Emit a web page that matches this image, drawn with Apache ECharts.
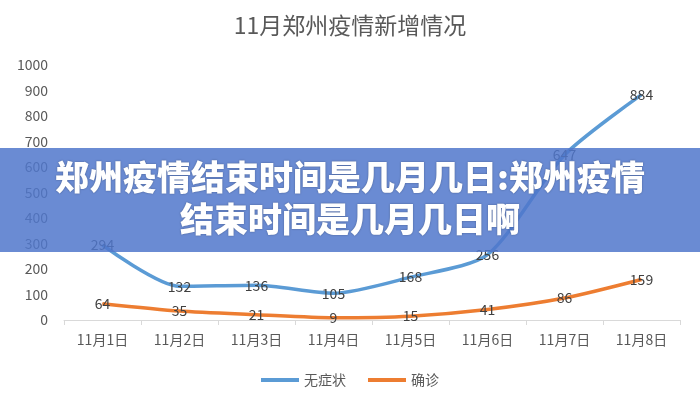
<!DOCTYPE html>
<html>
<head>
<meta charset="utf-8">
<script src="https://cdn.jsdelivr.net/npm/echarts@6/dist/echarts.min.js"></script>
<style>
  html, body { margin: 0; padding: 0; background: #fff; }
  #chart { width: 700px; height: 400px; }
</style>
</head>
<body>
<div id="chart"></div>
<script>
// 数据
const days = ['11月1日', '11月2日', '11月3日', '11月4日', '11月5日', '11月6日', '11月7日', '11月8日'];
const asymptomatic = [294, 132, 136, 105, 168, 256, 647, 884];
const confirmed = [64, 35, 21, 9, 15, 41, 86, 159];
const seriesNames = ['无症状', '确诊'];
const titleText = '11月郑州疫情新增情况';
const bannerLines = ['郑州疫情结束时间是几月几日:郑州疫情', '结束时间是几月几日啊'];

const font = '"Noto Sans CJK SC", "Microsoft YaHei", sans-serif';
const grey = '#595959';

const chart = echarts.init(document.getElementById('chart'));

function lineSeries(name, data, color) {
  return {
    name: name,
    type: 'line',
    smooth: 0.25,
    symbol: 'circle',
    symbolSize: 1,
    data: data,
    itemStyle: { color: color },
    lineStyle: { color: color, width: 3.5 },
    label: {
      show: true,
      position: 'inside',
      color: '#404040',
      fontSize: 14,
      fontFamily: font
    }
  };
}

chart.setOption({
  backgroundColor: '#fff',
  animation: false,
  title: {
    text: titleText,
    left: 'center',
    top: 9,
    textStyle: { color: grey, fontSize: 23, fontWeight: 'normal', fontFamily: font }
  },
  grid: { left: 64, right: 20, top: 65, bottom: 80 },
  legend: {
    data: seriesNames,
    bottom: 8,
    itemWidth: 38,
    itemHeight: 4,
    itemGap: 22,
    icon: 'rect',
    textStyle: { color: grey, fontSize: 14, fontFamily: font }
  },
  xAxis: {
    type: 'category',
    data: days,
    boundaryGap: true,
    axisLine: { lineStyle: { color: '#d9d9d9', width: 1 } },
    axisTick: { show: true, length: 5, lineStyle: { color: '#d9d9d9' } },
    axisLabel: { color: grey, fontSize: 14, margin: 13, fontFamily: font }
  },
  yAxis: {
    type: 'value',
    min: 0,
    max: 1000,
    interval: 100,
    axisLine: { show: false },
    axisTick: { show: false },
    splitLine: { show: false },
    axisLabel: { color: grey, fontSize: 14, margin: 16, fontFamily: font, formatter: v => String(v) }
  },
  series: [
    lineSeries(seriesNames[0], asymptomatic, '#5b9bd5'),
    lineSeries(seriesNames[1], confirmed, '#ed7d31')
  ],
  graphic: [
    {
      type: 'rect',
      left: 0,
      top: 148,
      z: 100,
      shape: { width: 700, height: 104 },
      style: { fill: 'rgba(80,119,203,0.85)' }
    },
    {
      type: 'text',
      left: 'center',
      top: 160,
      z: 101,
      style: {
        text: bannerLines[0],
        fill: '#fff',
        font: '900 34px ' + font,
        textShadowColor: 'rgba(0,0,0,0.35)',
        textShadowBlur: 2
      }
    },
    {
      type: 'text',
      left: 'center',
      top: 202,
      z: 101,
      style: {
        text: bannerLines[1],
        fill: '#fff',
        font: '900 34px ' + font,
        textShadowColor: 'rgba(0,0,0,0.35)',
        textShadowBlur: 2
      }
    }
  ]
});
</script>
</body>
</html>
